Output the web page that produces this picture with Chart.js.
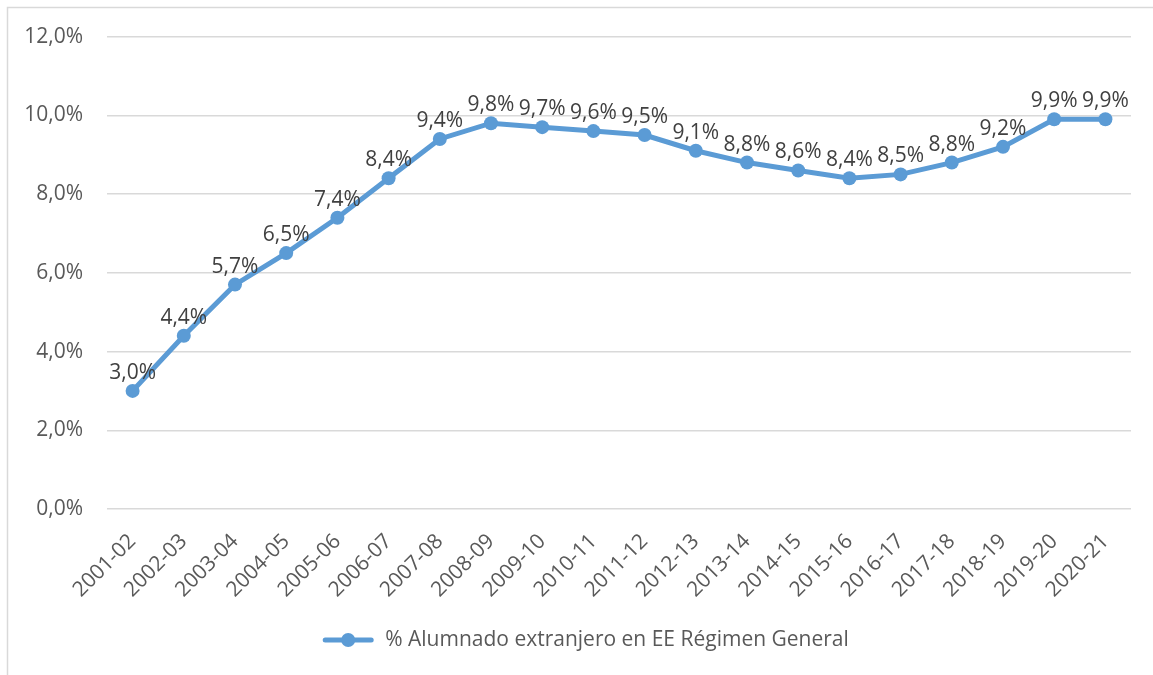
<!DOCTYPE html>
<html><head><meta charset="utf-8">
<script src="https://cdn.jsdelivr.net/npm/chart.js@4/dist/chart.umd.min.js"></script>
<style>html,body{margin:0;padding:0;background:#fff}canvas{display:block}</style>
</head><body>
<canvas id="c" width="1153" height="675"></canvas>
<script>
const categories = ["2001-02","2002-03","2003-04","2004-05","2005-06","2006-07","2007-08","2008-09","2009-10","2010-11","2011-12","2012-13","2013-14","2014-15","2015-16","2016-17","2017-18","2018-19","2019-20","2020-21"];
const values = [3.0,4.4,5.7,6.5,7.4,8.4,9.4,9.8,9.7,9.6,9.5,9.1,8.8,8.6,8.4,8.5,8.8,9.2,9.9,9.9];
const seriesName = "% Alumnado extranjero en EE Régimen General";
const yMin = 0, yMax = 12, yStep = 2;

const FONT = "'Open Sans', sans-serif";
const LINE_COLOR = "#5B9BD5";
const fmt = v => v.toFixed(1).replace('.', ',') + '%';

const frame = {
  id: 'frame',
  beforeDraw(chart) {
    const ctx = chart.ctx;
    ctx.save();
    ctx.fillStyle = '#fff';
    ctx.fillRect(0, 0, chart.width, chart.height);
    ctx.strokeStyle = '#d9d9d9';
    ctx.lineWidth = 1.5;
    ctx.strokeRect(7.5, 7.5, chart.width + 20, chart.height + 20);
    ctx.restore();
  }
};

const dataLabels = {
  id: 'dataLabels',
  afterDatasetsDraw(chart) {
    const ctx = chart.ctx;
    const meta = chart.getDatasetMeta(0);
    ctx.save();
    ctx.font = "21px " + FONT;
    ctx.fillStyle = '#404040';
    ctx.textAlign = 'center';
    ctx.textBaseline = 'alphabetic';
    meta.data.forEach((pt, i) => {
      ctx.fillText(fmt(values[i]), pt.x, pt.y - 12);
    });
    ctx.restore();
  }
};

const legendDraw = {
  id: 'legendDraw',
  afterDraw(chart) {
    const ctx = chart.ctx;
    const cy = 640;
    ctx.save();
    ctx.font = "21px " + FONT;
    const tw = ctx.measureText(seriesName).width;
    const iconW = 50, gap = 12;
    const total = iconW + gap + tw;
    const x0 = 586 - total / 2;
    ctx.strokeStyle = LINE_COLOR;
    ctx.lineWidth = 5;
    ctx.lineCap = 'round';
    ctx.beginPath();
    ctx.moveTo(x0 + 2, cy);
    ctx.lineTo(x0 + iconW - 2, cy);
    ctx.stroke();
    ctx.fillStyle = LINE_COLOR;
    ctx.beginPath();
    ctx.arc(x0 + iconW / 2, cy, 7, 0, Math.PI * 2);
    ctx.fill();
    ctx.fillStyle = '#595959';
    ctx.textAlign = 'left';
    ctx.textBaseline = 'middle';
    ctx.fillText(seriesName, x0 + iconW + gap, cy);
    ctx.restore();
  }
};

new Chart(document.getElementById('c'), {
  type: 'line',
  data: {
    labels: categories,
    datasets: [{
      label: seriesName,
      data: values,
      borderColor: LINE_COLOR,
      backgroundColor: LINE_COLOR,
      borderWidth: 5,
      pointRadius: 7,
      pointHoverRadius: 7,
      pointBackgroundColor: LINE_COLOR,
      pointBorderWidth: 0,
      tension: 0,
      fill: false
    }]
  },
  options: {
    responsive: false,
    animation: false,
    devicePixelRatio: 1,
    layout: { padding: { left: 0, right: 22, top: 29, bottom: 0 } },
    plugins: { legend: { display: false }, tooltip: { enabled: false } },
    scales: {
      x: {
        offset: true,
        grid: { display: false, drawTicks: false },
        border: { display: false },
        ticks: {
          color: '#595959',
          font: { family: FONT, size: 21 },
          maxRotation: 45, minRotation: 45,
          autoSkip: false,
          padding: 20
        },
        afterFit(scale) { scale.height = 166; }
      },
      y: {
        min: yMin, max: yMax,
        grid: { color: '#d9d9d9', lineWidth: 1.5, drawTicks: false },
        border: { display: false },
        ticks: {
          stepSize: yStep,
          color: '#595959',
          font: { family: FONT, size: 21 },
          padding: 24,
          callback: v => fmt(v)
        },
        afterFit(scale) { scale.width = 107; }
      }
    }
  },
  plugins: [frame, dataLabels, legendDraw]
});
</script>
</body></html>
